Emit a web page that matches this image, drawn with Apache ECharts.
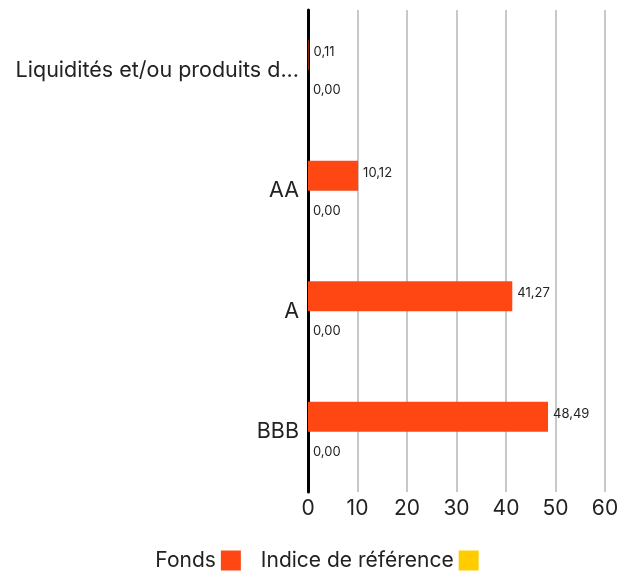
<!DOCTYPE html>
<html><head><meta charset="utf-8">
<script src="https://cdn.jsdelivr.net/npm/echarts@6/dist/echarts.min.js"></script>
<style>html,body{margin:0;padding:0;background:#fff}#c{width:634px;height:575px}</style>
</head><body><div id="c"></div>
<script>
const categories = ['Liquidités et/ou produits d...', 'AA', 'A', 'BBB'];
const fonds = [0.11, 10.12, 41.27, 48.49];
const indice = [0.00, 0.00, 0.00, 0.00];
const xTicks = [0, 10, 20, 30, 40, 50, 60];

const fmt = p => p.value.toFixed(2).replace('.', ',');
const chart = echarts.init(document.getElementById('c'));
chart.setOption({
  animation: false,
  textStyle: { fontFamily: 'Inter, "Noto Sans", sans-serif' },
  grid: { left: 308, right: 29, top: 10, bottom: 83, containLabel: false },
  legend: {
    top: 550, left: 'center', align: 'right', itemWidth: 20, itemHeight: 20, itemGap: 20,
    icon: 'rect', padding: 0,
    textStyle: { fontSize: 21, color: '#222', fontFamily: 'Inter, "Noto Sans", sans-serif' },
    data: ['Fonds', 'Indice de référence']
  },
  xAxis: {
    type: 'value', min: xTicks[0], max: xTicks[xTicks.length - 1], interval: 10,
    axisLine: { show: false }, axisTick: { show: false },
    axisLabel: { fontSize: 21, color: '#222', margin: 6 },
    splitLine: { lineStyle: { color: '#c8c8c8', width: 2 } }
  },
  yAxis: {
    type: 'category', data: categories, inverse: true,
    axisLine: { show: true, lineStyle: { color: '#000', width: 3 } },
    axisTick: { show: false },
    axisLabel: { fontSize: 21.5, color: '#222', margin: 9 }
  },
  series: [
    { name: 'Fonds', type: 'bar', data: fonds, barWidth: 30, barGap: '0%',
      itemStyle: { color: '#ff4714' },
      label: { show: true, position: 'right', formatter: fmt, fontSize: 13, color: '#222', offset: [0, -3] } },
    { name: 'Indice de référence', type: 'bar', data: indice, barWidth: 30,
      itemStyle: { color: '#ffcc00' },
      label: { show: true, position: 'right', formatter: fmt, fontSize: 13, color: '#222', offset: [0, 5] } }
  ]
});
</script></body></html>
